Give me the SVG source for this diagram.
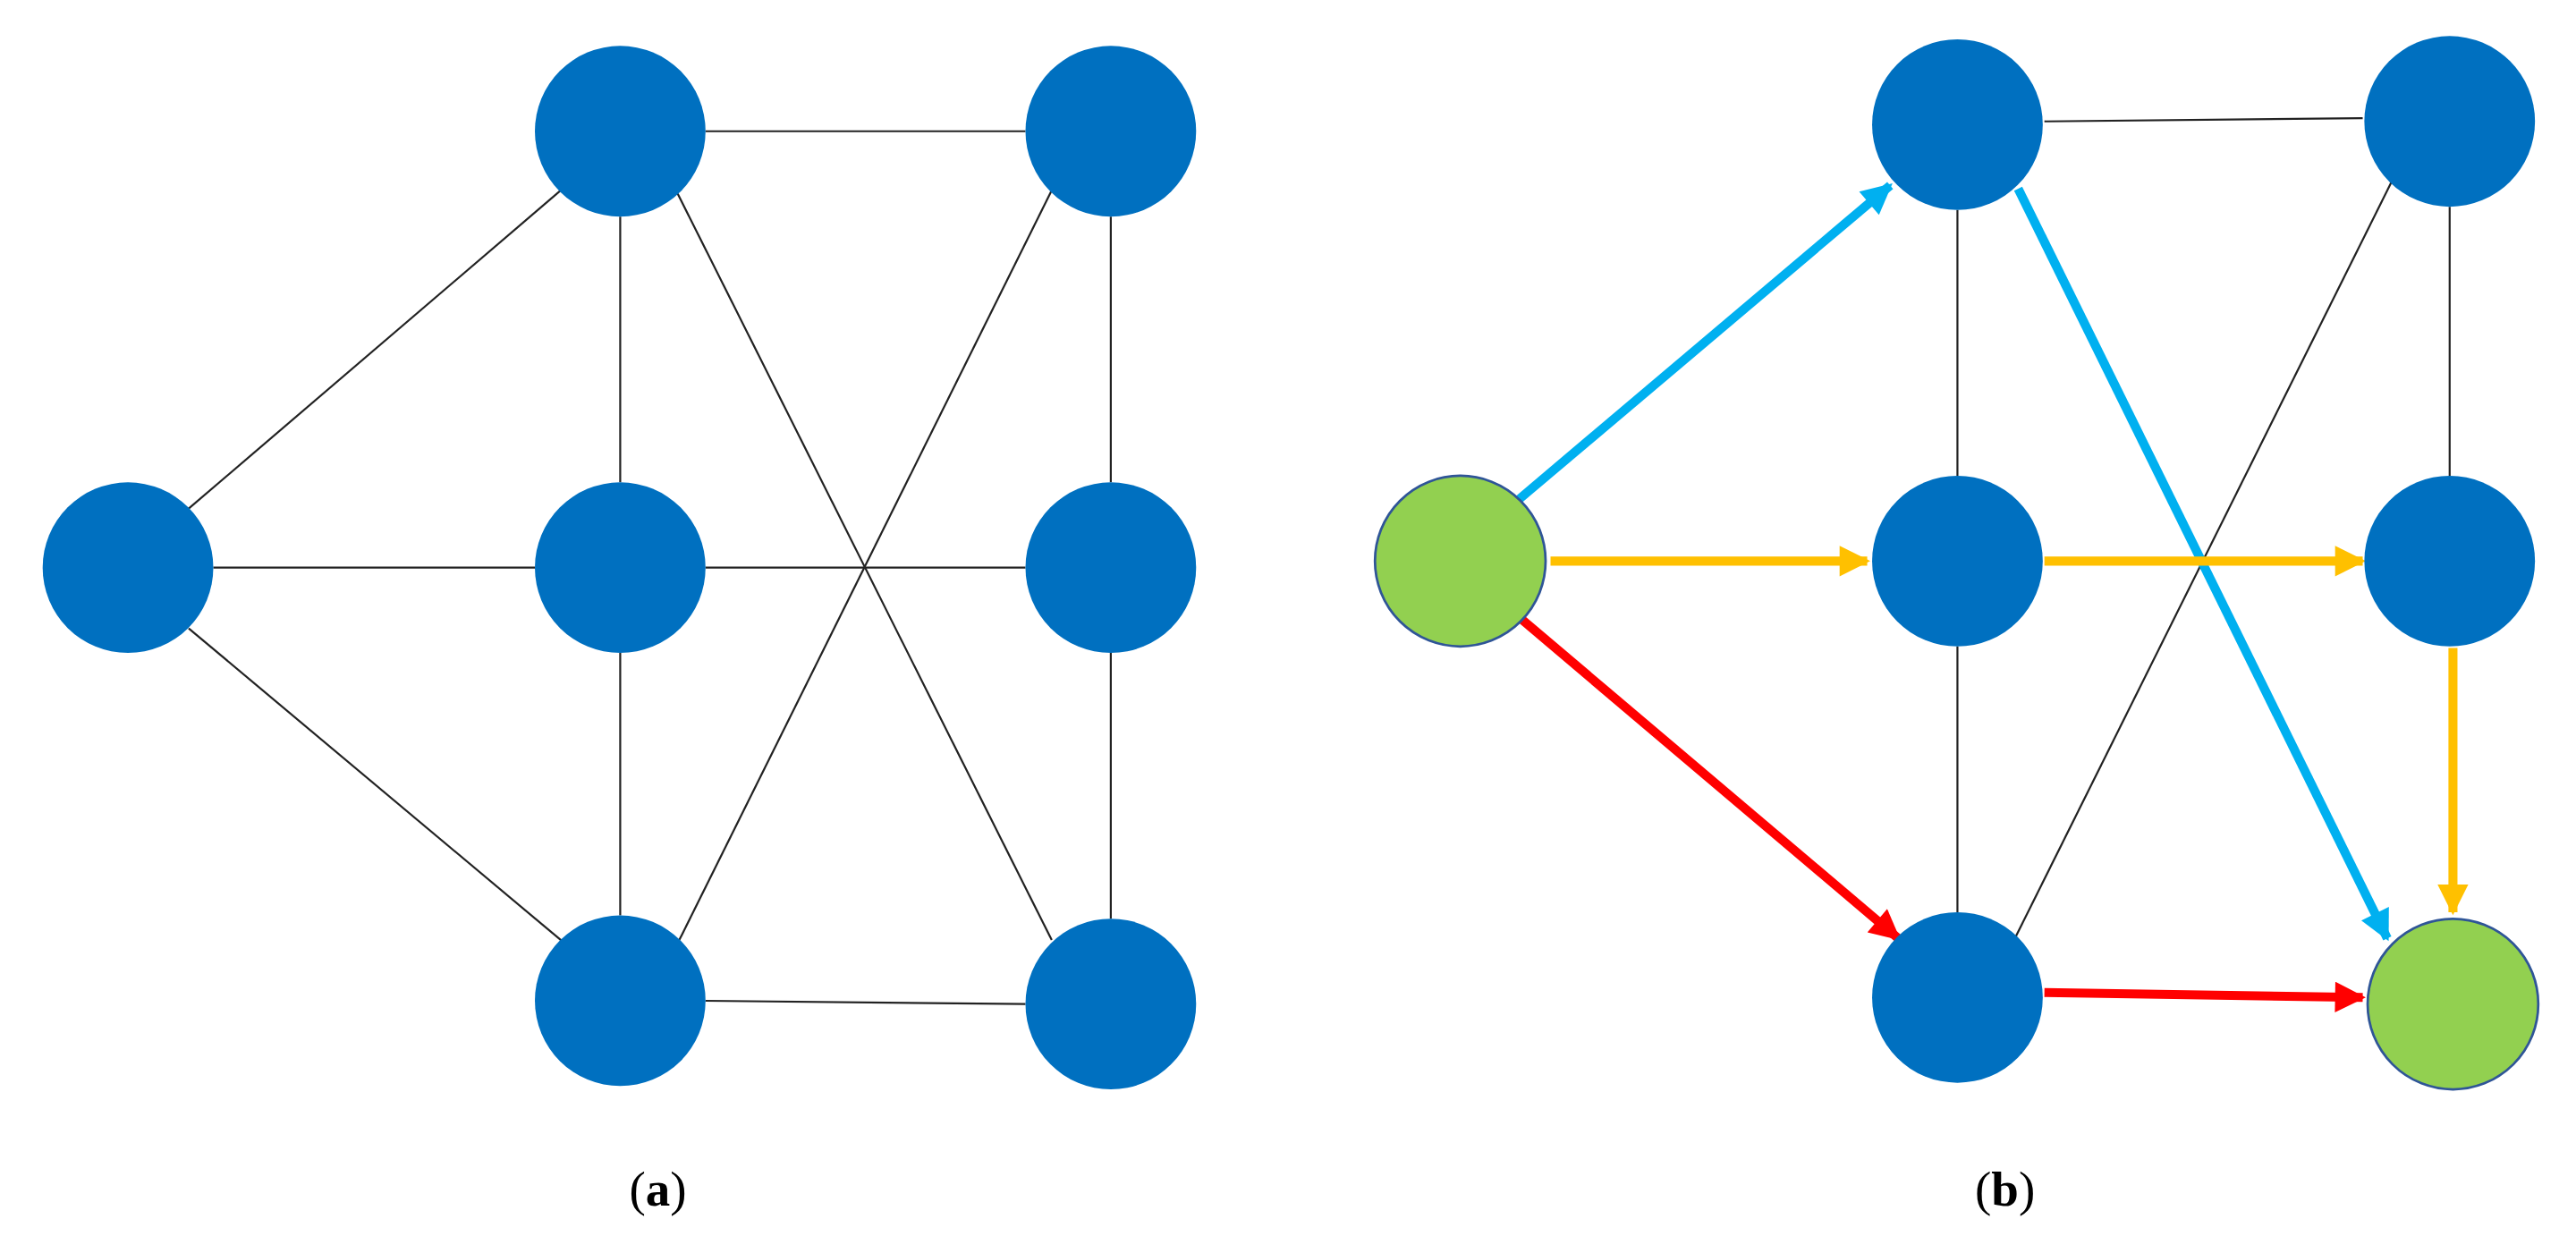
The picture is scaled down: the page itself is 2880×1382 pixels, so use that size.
<svg xmlns="http://www.w3.org/2000/svg" width="2880" height="1382" viewBox="0 0 2880 1382">
<style>
.n{fill:#0070C0}
.g{fill:#92D050;stroke:#2F5597;stroke-width:1.5}
.e{stroke:#222;stroke-width:1.2;fill:none}
.a{stroke-width:5.5;fill:none}
.lbl{font-family:"Liberation Serif",serif;font-size:30px;fill:#000}
</style>
<defs>
<marker id="mc" viewBox="0 0 10 10" refX="9" refY="5" markerWidth="4" markerHeight="3.4" orient="auto" markerUnits="strokeWidth"><path d="M0,0L10,5L0,10Z" fill="#00B0F0"/></marker>
<marker id="my" viewBox="0 0 10 10" refX="9" refY="5" markerWidth="4" markerHeight="3.4" orient="auto" markerUnits="strokeWidth"><path d="M0,0L10,5L0,10Z" fill="#FFC000"/></marker>
<marker id="mr" viewBox="0 0 10 10" refX="9" refY="5" markerWidth="4" markerHeight="3.4" orient="auto" markerUnits="strokeWidth"><path d="M0,0L10,5L0,10Z" fill="#FF0000"/></marker>
</defs>
<rect width="2880" height="1382" fill="#fff"/>
<g transform="scale(1.8344)">
<g id="connectors">
<line class="e" x1="115" y1="310" x2="343" y2="115"/>
<line class="e" x1="130" y1="346" x2="326" y2="346"/>
<line class="e" x1="115" y1="383" x2="343" y2="574"/>
<line class="e" x1="378" y1="132" x2="378" y2="294"/>
<line class="e" x1="378" y1="398" x2="378" y2="558"/>
<line class="e" x1="430" y1="80" x2="625" y2="80"/>
<line class="e" x1="413" y1="118" x2="641" y2="573"/>
<line class="e" x1="414" y1="573" x2="641" y2="116"/>
<line class="e" x1="430" y1="346" x2="625" y2="346"/>
<line class="e" x1="677" y1="132" x2="677" y2="294"/>
<line class="e" x1="677" y1="398" x2="677" y2="560"/>
<line class="e" x1="430" y1="610" x2="625" y2="612"/>

<line class="e" x1="1246" y1="74" x2="1440" y2="72"/>
<line class="e" x1="1193" y1="128" x2="1193" y2="290"/>
<line class="e" x1="1193" y1="394" x2="1193" y2="556"/>
<line class="e" x1="1493" y1="126" x2="1493" y2="290"/>
<line class="e" x1="1228" y1="572" x2="1458" y2="110"/>

<line class="a" stroke="#00B0F0" marker-end="url(#mc)" x1="925" y1="305" x2="1152" y2="113"/>
<line class="a" stroke="#00B0F0" marker-end="url(#mc)" x1="1230" y1="115" x2="1455" y2="572"/>
<line class="a" stroke="#FFC000" marker-end="url(#my)" x1="945" y1="342" x2="1138" y2="342"/>
<line class="a" stroke="#FFC000" marker-end="url(#my)" x1="1246" y1="342" x2="1440" y2="342"/>
<line class="a" stroke="#FFC000" marker-end="url(#my)" x1="1495" y1="395" x2="1495" y2="556"/>
<line class="a" stroke="#FF0000" marker-end="url(#mr)" x1="928" y1="378" x2="1157" y2="572"/>
<line class="a" stroke="#FF0000" marker-end="url(#mr)" x1="1246" y1="605" x2="1440" y2="608"/>
</g>
<g id="a1"><circle class="n" cx="78" cy="346" r="52"/></g>
<g id="a2"><circle class="n" cx="378" cy="80" r="52"/></g>
<g id="a3"><circle class="n" cx="378" cy="346" r="52"/></g>
<g id="a4"><circle class="n" cx="378" cy="610" r="52"/></g>
<g id="a5"><circle class="n" cx="677" cy="80" r="52"/></g>
<g id="a6"><circle class="n" cx="677" cy="346" r="52"/></g>
<g id="a7"><circle class="n" cx="677" cy="612" r="52"/></g>
<g id="b1"><circle class="g" cx="890" cy="342" r="52"/></g>
<g id="b2"><circle class="n" cx="1193" cy="76" r="52"/></g>
<g id="b3"><circle class="n" cx="1193" cy="342" r="52"/></g>
<g id="b4"><circle class="n" cx="1193" cy="608" r="52"/></g>
<g id="b5"><circle class="n" cx="1493" cy="74" r="52"/></g>
<g id="b6"><circle class="n" cx="1493" cy="342" r="52"/></g>
<g id="b7"><circle class="g" cx="1495" cy="612" r="52"/></g>
<text class="lbl" x="401" y="735" text-anchor="middle">(<tspan font-weight="bold">a</tspan>)</text>
<text class="lbl" x="1222" y="735" text-anchor="middle">(<tspan font-weight="bold">b</tspan>)</text>
</g>
</svg>
